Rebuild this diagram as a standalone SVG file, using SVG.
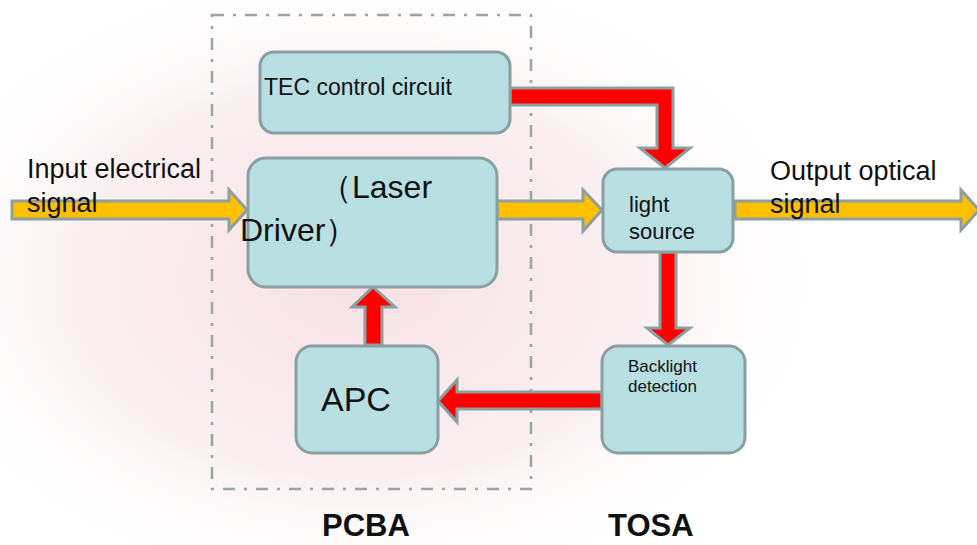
<svg xmlns="http://www.w3.org/2000/svg" width="977" height="545" viewBox="0 0 977 545">
<defs>
<radialGradient id="bg" cx="0.5" cy="0.5" r="0.5">
<stop offset="0" stop-color="#f6dde0" stop-opacity="0.9"/>
<stop offset="0.6" stop-color="#f9e9eb" stop-opacity="0.7"/>
<stop offset="1" stop-color="#ffffff" stop-opacity="0"/>
</radialGradient>
<style>
.box{fill:#b8dfe2;stroke:#8a9fa0;stroke-width:3}
.t{font-family:"Liberation Sans",Arial,sans-serif;fill:#111}
.y{fill:#ffc000;stroke:#8c9fa1;stroke-width:3;stroke-linejoin:miter}
.r{fill:#ff0000;stroke:#8c9fa1;stroke-width:3;stroke-linejoin:miter}
.lbl{font-family:"Liberation Sans",Arial,sans-serif;fill:#111;font-weight:bold;font-size:31px}
</style>
</defs>
<rect width="977" height="545" fill="#ffffff"/>
<ellipse cx="360" cy="280" rx="480" ry="330" fill="url(#bg)"/>
<rect x="212" y="15" width="319" height="474" fill="none" stroke="#98a5a5" stroke-width="2.5" stroke-dasharray="12,9,3,9"/>
<g id="connectors">
<polygon class="y" points="12,201 229,201 229,190 247,210 229,230 229,219 12,219"/>
<polygon class="y" points="497,201 583,201 583,190 602,210 583,231 583,219 497,219"/>
<polygon class="y" points="735,201 961,201 961,190 979,210 961,230 961,219 735,219"/>
<polygon class="r" points="510,88 673,88 673,148 690,148 665,168 640,148 657,148 657,105 510,105"/>
<polygon class="r" points="660,252 676,252 676,328 690,328 668,345 647,328 660,328"/>
<polygon class="r" points="602,392 457,392 457,380 438,401 457,422 457,409 602,409"/>
<polygon class="r" points="365,345 382,345 382,307 395,307 373,287 352,307 365,307"/>
</g>
<g id="tec">
<rect class="box" x="260" y="52" width="250" height="81" rx="14"/>
<text class="t" x="264" y="95" font-size="23">TEC control circuit</text>
</g>
<g id="driver">
<rect class="box" x="248" y="158" width="249" height="129" rx="18"/>
<text class="t" x="320" y="198" font-size="32">（Laser</text>
<text class="t" x="240" y="241" font-size="32">Driver）</text>
</g>
<g id="light">
<rect class="box" x="603" y="169" width="130" height="83" rx="14"/>
<text class="t" x="629" y="212" font-size="22">light</text>
<text class="t" x="629" y="239" font-size="22">source</text>
</g>
<g id="backlight">
<rect class="box" x="602" y="346" width="143" height="107" rx="16"/>
<text class="t" x="628" y="372" font-size="17">Backlight</text>
<text class="t" x="628" y="392" font-size="17">detection</text>
</g>
<g id="apc">
<rect class="box" x="296" y="346" width="142" height="107" rx="16"/>
<text class="t" x="321" y="411" font-size="34">APC</text>
</g>
<g id="labels">
<text class="t" x="27" y="178" font-size="27">Input electrical</text>
<text class="t" x="27" y="212" font-size="27">signal</text>
<text class="t" x="770" y="180" font-size="27">Output optical</text>
<text class="t" x="770" y="213" font-size="27">signal</text>
<text class="lbl" x="322" y="536">PCBA</text>
<text class="lbl" x="608" y="536">TOSA</text>
</g>
</svg>
